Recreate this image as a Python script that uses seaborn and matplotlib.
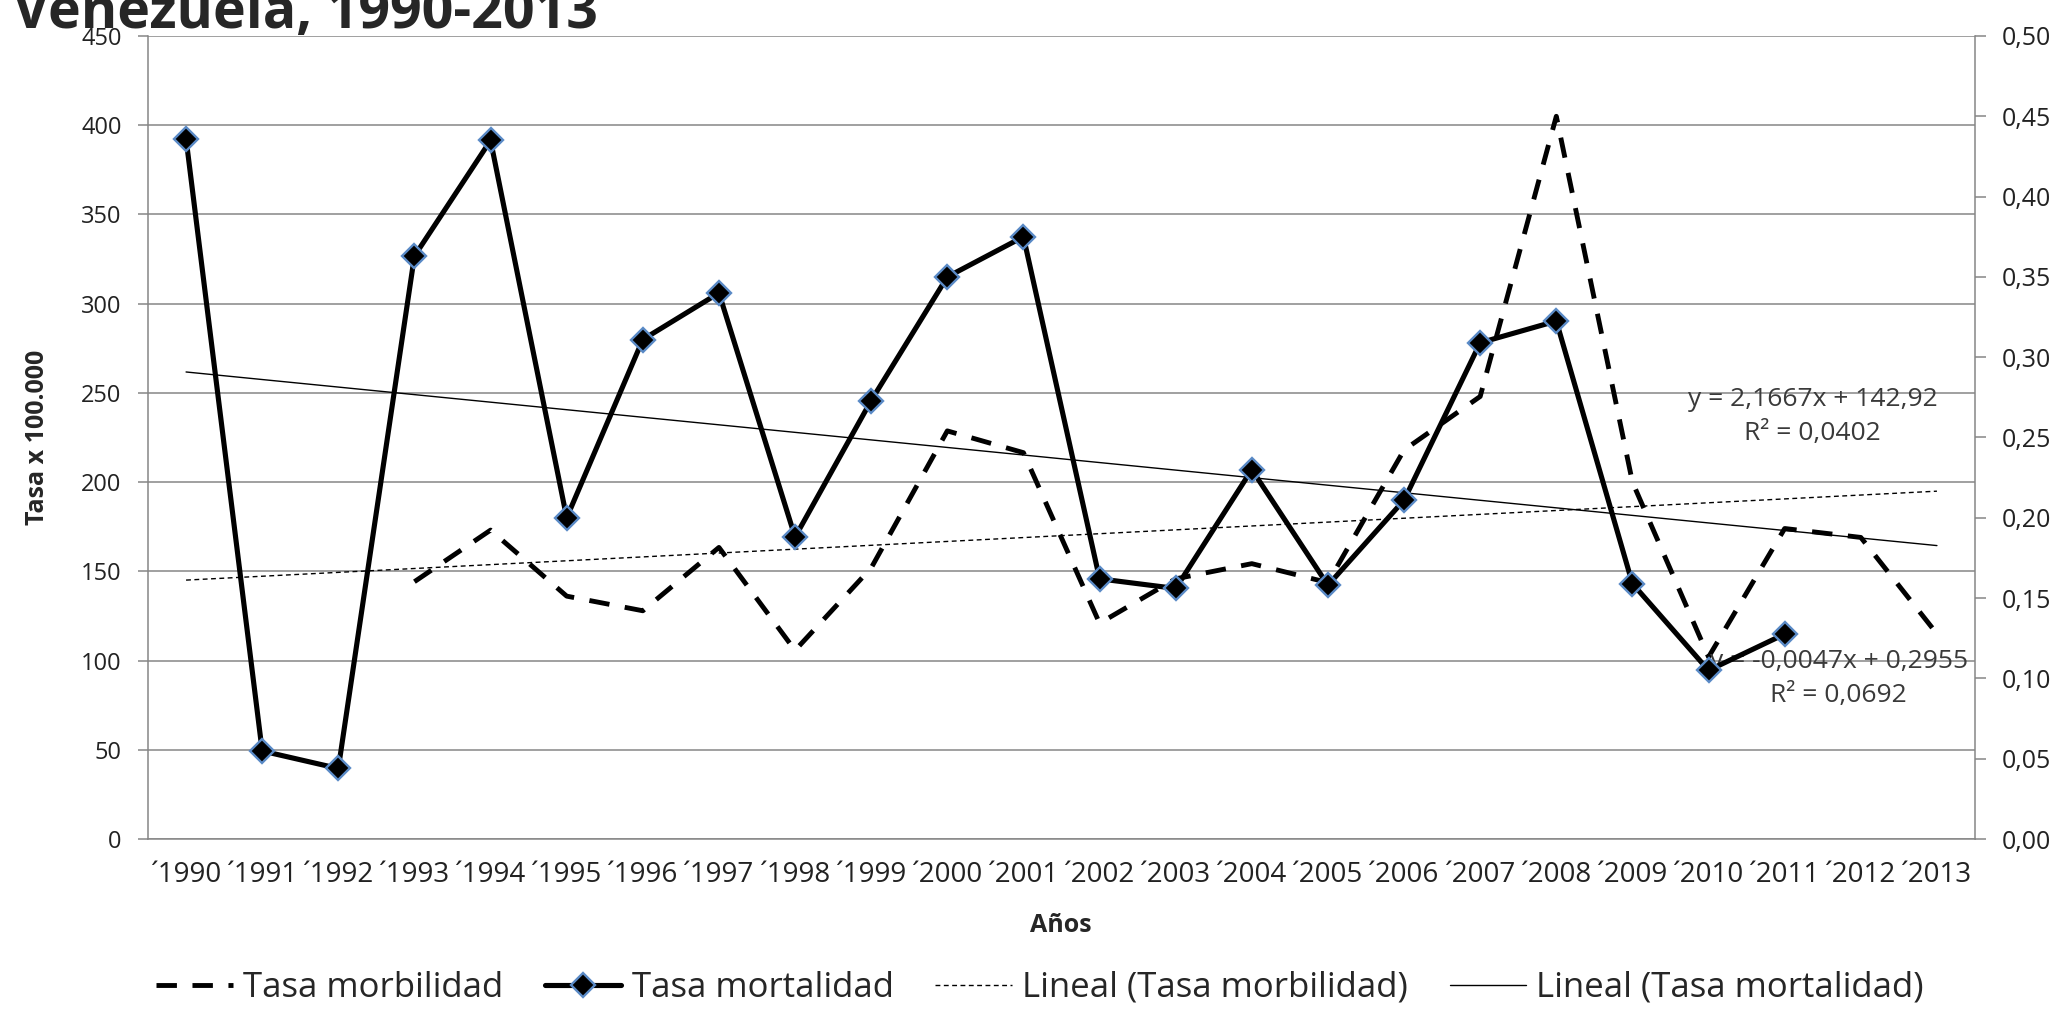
import numpy as np
import pandas as pd
import matplotlib
matplotlib.use('Agg')
import matplotlib.pyplot as plt
from matplotlib.lines import Line2D
from matplotlib.ticker import FuncFormatter, MultipleLocator
import seaborn as sns

# datos
anios = ['´1990', '´1991', '´1992', '´1993', '´1994', '´1995', '´1996', '´1997',
         '´1998', '´1999', '´2000', '´2001', '´2002', '´2003', '´2004', '´2005',
         '´2006', '´2007', '´2008', '´2009', '´2010', '´2011', '´2012', '´2013']
# tasa morbilidad (eje izquierdo, x 100.000)
morbilidad = [np.nan, np.nan, np.nan, 144.2, 173.1, 136.1, 127.9, 163.4,
              105.7, 151.9, 228.7, 216.5, 120.9, 145.8, 154.3, 143.7,
              218.0, 248.0, 405.0, 200.0, 102.0, 174.0, 169.0, 115.0]
# tasa mortalidad (eje derecho)
mortalidad = [0.436, 0.0548, 0.0439, 0.363, 0.435, 0.200, 0.311, 0.340,
              0.188, 0.273, 0.350, 0.375, 0.162, 0.156, 0.230, 0.158,
              0.211, 0.309, 0.3225, 0.159, 0.105, 0.1276, np.nan, np.nan]
# lineas de tendencia (Excel: x = 1..24)
tend_morb = (2.1667, 142.92)
tend_mort = (-0.0047, 0.2955)
eq_morb = 'y = 2,1667x + 142,92\nR² = 0,0402'
eq_mort = 'y = -0,0047x + 0,2955\nR² = 0,0692'

sns.set_theme(style='white')
plt.rcParams['font.family'] = ['Open Sans', 'DejaVu Sans']

W, H = 2057, 1010
df = pd.DataFrame({'pos': np.arange(len(anios)), 'morb': morbilidad, 'mort': mortalidad})
df['xe'] = df['pos'] + 1
df['tmorb'] = tend_morb[0] * df['xe'] + tend_morb[1]
df['tmort'] = tend_mort[0] * df['xe'] + tend_mort[1]

fig = plt.figure(figsize=(W / 100, H / 100), dpi=100)
ax = fig.add_axes([148 / W, 1 - 839 / H, 1827 / W, 803 / H])
ax2 = ax.twinx()

gris = '#868686'
dash_morb = (0, (4.2, 3.2))
dot_tend = (0, (3.5, 2.5))
azul = '#5A8AC6'
lw_morb = 3.5
lw_mort = 3.7

# series
sns.lineplot(data=df, x='pos', y='morb', ax=ax, color='black', lw=lw_morb,
             linestyle=dash_morb, errorbar=None, legend=False)
sns.lineplot(data=df, x='pos', y='tmorb', ax=ax, color='black', lw=1,
             linestyle=dot_tend, errorbar=None, legend=False)
sns.lineplot(data=df, x='pos', y='tmort', ax=ax2, color='black', lw=1,
             errorbar=None, legend=False)
sns.lineplot(data=df, x='pos', y='mort', ax=ax2, color='black', lw=lw_mort,
             marker='D', markersize=12, markerfacecolor='black',
             markeredgecolor=azul, markeredgewidth=1.7, errorbar=None, legend=False)

# ejes
ax.set_xlim(-0.5, len(anios) - 0.5)
ax.set_ylim(0, 450)
ax2.set_ylim(0, 0.5)
ax.yaxis.set_major_locator(MultipleLocator(50))
ax2.yaxis.set_major_locator(MultipleLocator(0.05))
ax2.yaxis.set_major_formatter(FuncFormatter(lambda v, p: f'{v:.2f}'.replace('.', ',')))
ax.set_xticks(df['pos'])
ax.set_xticklabels(anios)
ax.set_xlabel('')
ax.set_ylabel('')
ax2.set_ylabel('')

ax.yaxis.grid(True, color=gris, lw=1.1)
ax.xaxis.grid(False)
ax.set_axisbelow(True)

for s in ['top', 'right']:
    ax.spines[s].set_visible(False)
for s in ['top', 'left', 'bottom']:
    ax2.spines[s].set_visible(False)
for s in ['left', 'bottom']:
    ax.spines[s].set_color(gris)
    ax.spines[s].set_linewidth(1.1)
ax2.spines['right'].set_color(gris)
ax2.spines['right'].set_linewidth(1.1)

ax.tick_params(axis='y', direction='out', length=7, width=1.1, color=gris,
               labelsize=17, labelcolor='#222222', pad=12, left=True)
ax.tick_params(axis='x', length=0, labelsize=20, labelcolor='#222222', pad=16)
ax2.tick_params(axis='y', direction='out', length=8, width=1.1, color=gris,
                labelsize=18, labelcolor='#222222', pad=11, right=True)

# ecuaciones de tendencia
ax.text(21.37, 236.8, eq_morb, ha='center', va='center', fontsize=19,
        color='#3a3a3a', linespacing=1.45)
ax.text(21.71, 89.9, eq_mort, ha='center', va='center', fontsize=19,
        color='#3a3a3a', linespacing=1.45)

# textos
fig.text(13 / W, 1 - 28 / H, 'Venezuela, 1990-2013', fontsize=40,
         fontweight='bold', va='baseline', ha='left')
fig.text(38 / W, 1 - 437 / H, 'Tasa x 100.000', rotation=90, fontsize=18,
         fontweight='bold', ha='center', va='center')
fig.text(1061 / W, 1 - 926 / H, 'Años', fontsize=18, fontweight='bold',
         ha='center', va='center')

# leyenda
handles = [
    Line2D([], [], color='black', lw=lw_morb, linestyle=dash_morb),
    Line2D([], [], color='black', lw=lw_mort, marker='D', markersize=12,
           markerfacecolor='black', markeredgecolor=azul, markeredgewidth=1.7),
    Line2D([], [], color='black', lw=1, linestyle=dot_tend),
    Line2D([], [], color='black', lw=1),
]
labels = ['Tasa morbilidad', 'Tasa mortalidad', 'Lineal (Tasa morbilidad)',
          'Lineal (Tasa mortalidad)']
fig.legend(handles, labels, loc='center', bbox_to_anchor=(1040 / W, 1 - 988 / H),
           ncol=4, frameon=False, fontsize=25, handlelength=2.2,
           handletextpad=0.3, columnspacing=1.2, borderpad=0, borderaxespad=0)

fig.savefig('out.png', dpi=100)
